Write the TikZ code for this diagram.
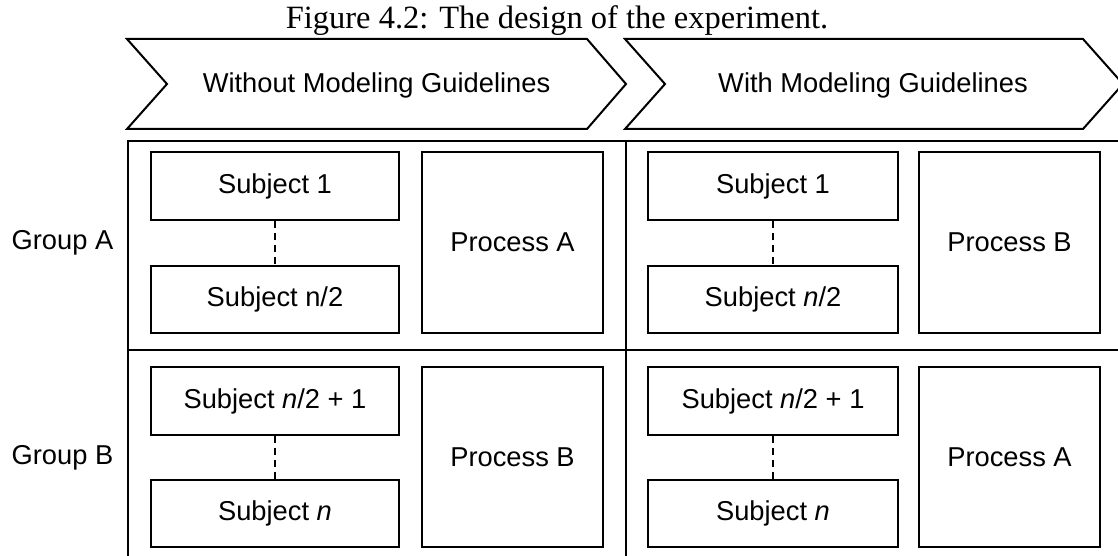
\documentclass[tikz,border=0pt]{standalone}
\usepackage{fontspec}
\setmainfont{Liberation Sans}
\newfontfamily\captionserif{Liberation Serif}
\tikzset{
  frame/.style={line width=2pt, line join=miter},
  box/.style={draw, line width=2pt, inner sep=0pt, align=center,
    font=\fontsize{27.3}{32}\selectfont},
  subjbox/.style={box, minimum width=248pt, minimum height=67.5pt},
  procbox/.style={box, minimum width=181pt, minimum height=181pt},
  label/.style={inner sep=0pt, font=\fontsize{27.3}{32}\selectfont},
  linkdash/.style={line width=2pt, dash pattern=on 7pt off 5pt},
}
\begin{document}
\begin{tikzpicture}[x=1pt, y=-1pt]
  \clip (0,0) rectangle (1118,556);
  \fill[white] (0,0) rectangle (1118,556);

  % caption
  \node[inner sep=0pt, anchor=base, font=\captionserif\fontsize{32.5}{36}\selectfont]
    (caption) at (557,29) {Figure 4.2: The design of the experiment.};

  % phase chevrons
  \draw[frame] (127,39) -- (587,39) -- (626,84) -- (587,129) -- (127,129) -- (167,84) -- cycle;
  \draw[frame] (625,39) -- (1083,39) -- (1123,84) -- (1083,129) -- (625,129) -- (665,84) -- cycle;
  \node[label] (phaseA) at (376.5,85) {Without Modeling Guidelines};
  \node[label] (phaseB) at (873,85) {With Modeling Guidelines};

  % grid
  \draw[frame] (1130,141) -- (128,141) -- (128,570);
  \draw[frame] (625.5,141) -- (625.5,570);
  \draw[frame] (128,350) -- (1130,350);

  % group labels
  \node[label] (grpA) at (62.5,243) {Group A};
  \node[label] (grpB) at (62.5,458) {Group B};

  % without guidelines, group A
  \node[subjbox] (a1) at (275,186) {Subject 1};
  \node[subjbox] (a2) at (275,299.5) {Subject n/2};
  \node[procbox] (pa1) at (512.5,242.5) {Process A};
  % without guidelines, group B
  \node[subjbox] (b1) at (275,401) {Subject \textit{n}/2 + 1};
  \node[subjbox] (b2) at (275,513.5) {Subject \textit{n}};
  \node[procbox, minimum height=180pt] (pb1) at (512.5,457) {Process B};

  % with guidelines, group A
  \node[subjbox, minimum width=250pt] (a3) at (773,186) {Subject 1};
  \node[subjbox, minimum width=250pt] (a4) at (773,299.5) {Subject \textit{n}/2};
  \node[procbox] (pb2) at (1009.5,242.5) {Process B};
  % with guidelines, group B
  \node[subjbox, minimum width=250pt] (b3) at (773,401) {Subject \textit{n}/2 + 1};
  \node[subjbox, minimum width=250pt] (b4) at (773,513.5) {Subject \textit{n}};
  \node[procbox, minimum height=180pt] (pa2) at (1009.5,457) {Process A};

  % dashed links between first and last subject
  \draw[linkdash] (a1.south) -- (a2.north);
  \draw[linkdash] (b1.south) -- (b2.north);
  \draw[linkdash] (a3.south) -- (a4.north);
  \draw[linkdash] (b3.south) -- (b4.north);
\end{tikzpicture}
\end{document}
